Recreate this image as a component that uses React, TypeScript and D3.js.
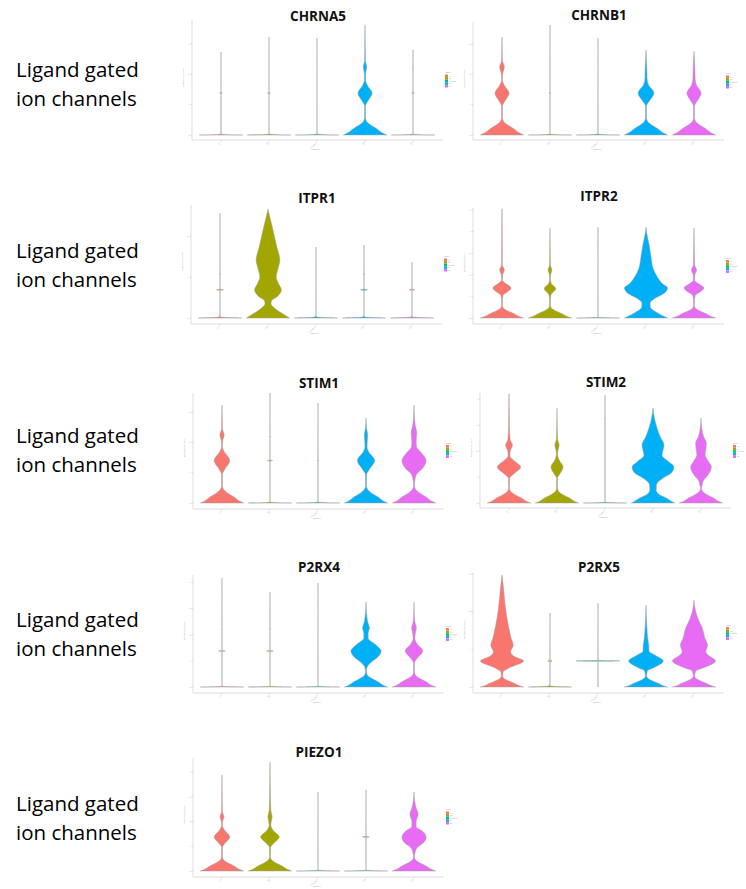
import React from "react";
import * as d3 from "d3";

type Pt = [number, number];

const genes = ["CHRNA5", "CHRNB1", "ITPR1", "ITPR2", "STIM1", "STIM2", "P2RX4", "P2RX5", "PIEZO1"];
const clusters = ["C1", "C2", "C3 cells", "C4", "C5"];
const clusterColors = ["#F8766D", "#A3A500", "#00BF7D", "#00B0F6", "#E76BF3"];
const yMaxes = [3.78, 3.72, 2.77, 5.09, 3.63, 4.22, 4.29, 3.02, 4.57];
const yTickValues = [
  [0, 1, 2, 3], [0, 1, 2, 3], [0, 1, 2], [0, 1, 2, 3, 4, 5], [0, 1, 2, 3],
  [0, 1, 2, 3, 4], [0, 1, 2, 3, 4], [0, 1, 2, 3], [0, 1, 2, 3, 4],
];
const rowLabelLines = ["Ligand gated", "ion channels"];

// density profile of the zero-inflated bottom part: [expression, relative width]
const BASE: Pt[] = [[0, 1], [0.07, 0.8], [0.2, 0.56], [0.35, 0.22], [0.45, 0.07], [0.58, 0.02]];
const BASE_HALF: Pt[] = [[0, 1], [0.035, 0.8], [0.1, 0.56], [0.18, 0.24], [0.24, 0.07], [0.29, 0.03]];

// nearly-all-zero violins: max value and small bumps [value, width]
function spike(top: number, marks: Pt[] = []): Pt[] {
  const pts: Pt[] = [[0, 1], [0.012, 0.3], [0.03, 0.002]];
  marks.forEach(([v, w]) => pts.push([v - 0.02, 0.002], [v, w], [v + 0.02, 0.002]));
  pts.push([top, 0]);
  return pts;
}

const chrna5: Pt[][] = [
  spike(2.73, [[1.38, 0.07]]),
  spike(3.22, [[1.38, 0.07]]),
  spike(3.19),
  [...BASE, [0.95, 0.02], [1.1, 0.12], [1.38, 0.33], [1.62, 0.12], [1.8, 0.03], [2.0, 0.03], [2.24, 0.08], [2.45, 0.02], [3.0, 0.01], [3.62, 0]],
  spike(2.8, [[1.38, 0.07], [2.2, 0.03]]),
];
const chrnb1: Pt[][] = [
  [...BASE, [0.95, 0.02], [1.1, 0.12], [1.38, 0.33], [1.62, 0.12], [1.8, 0.02], [2.0, 0.03], [2.24, 0.11], [2.45, 0.02], [2.8, 0.01], [3.22, 0]],
  spike(3.62, [[1.38, 0.05], [2.24, 0.02]]),
  spike(3.19),
  [...BASE, [0.95, 0.02], [1.1, 0.14], [1.38, 0.37], [1.65, 0.12], [1.85, 0.05], [2.2, 0.04], [2.5, 0.02], [2.8, 0]],
  [...BASE, [0.95, 0.02], [1.1, 0.13], [1.38, 0.33], [1.65, 0.11], [1.85, 0.05], [2.2, 0.04], [2.5, 0.02], [2.76, 0]],
];
const itpr1: Pt[][] = [
  spike(2.57, [[0.69, 0.16], [1.08, 0.03]]),
  [[0, 1], [0.05, 0.85], [0.15, 0.55], [0.27, 0.25], [0.35, 0.14], [0.42, 0.16], [0.52, 0.42], [0.69, 0.62], [0.85, 0.48], [1.0, 0.38], [1.2, 0.46], [1.42, 0.55], [1.74, 0.41], [2.16, 0.23], [2.4, 0.12], [2.6, 0.03], [2.67, 0]],
  spike(1.74),
  spike(1.79, [[0.69, 0.16], [1.08, 0.03]]),
  spike(1.37, [[0.69, 0.12]]),
];
const itpr2: Pt[][] = [
  [...BASE, [0.8, 0.02], [1.05, 0.05], [1.2, 0.25], [1.39, 0.42], [1.58, 0.2], [1.75, 0.02], [2.0, 0.03], [2.22, 0.11], [2.45, 0.02], [3.2, 0.015], [4.2, 0.01], [5.05, 0]],
  [...BASE, [0.8, 0.02], [1.05, 0.04], [1.36, 0.27], [1.6, 0.06], [1.8, 0.02], [2.0, 0.03], [2.22, 0.09], [2.45, 0.02], [3.3, 0.01], [4.17, 0]],
  spike(4.2),
  [[0, 1], [0.07, 0.85], [0.2, 0.6], [0.35, 0.35], [0.5, 0.2], [0.69, 0.19], [0.9, 0.4], [1.15, 0.85], [1.39, 1.0], [1.6, 0.75], [1.94, 0.5], [2.3, 0.33], [2.87, 0.23], [3.47, 0.13], [3.9, 0.04], [4.2, 0]],
  [...BASE, [0.8, 0.02], [1.05, 0.06], [1.2, 0.28], [1.39, 0.46], [1.58, 0.22], [1.75, 0.03], [2.0, 0.04], [2.22, 0.12], [2.45, 0.03], [3.2, 0.015], [4.17, 0]],
];
const stim1: Pt[][] = [
  [...BASE, [0.95, 0.02], [1.1, 0.12], [1.4, 0.36], [1.7, 0.1], [1.85, 0.02], [2.05, 0.03], [2.24, 0.1], [2.45, 0.02], [2.9, 0.01], [3.23, 0]],
  spike(3.63, [[1.4, 0.12], [2.2, 0.03]]),
  spike(3.3, [[1.4, 0.03]]),
  [...BASE, [0.95, 0.03], [1.1, 0.15], [1.4, 0.4], [1.7, 0.12], [1.85, 0.05], [2.05, 0.06], [2.24, 0.08], [2.45, 0.03], [2.8, 0]],
  [...BASE, [0.75, 0.04], [0.95, 0.12], [1.15, 0.4], [1.4, 0.56], [1.65, 0.35], [1.85, 0.12], [2.05, 0.1], [2.3, 0.13], [2.6, 0.05], [3.0, 0.01], [3.23, 0]],
];
const stim2: Pt[][] = [
  [...BASE, [0.95, 0.03], [1.1, 0.2], [1.38, 0.54], [1.65, 0.2], [1.8, 0.04], [2.0, 0.06], [2.22, 0.16], [2.45, 0.05], [3.0, 0.02], [3.7, 0.01], [4.2, 0]],
  [...BASE, [0.95, 0.02], [1.1, 0.12], [1.38, 0.28], [1.65, 0.1], [1.85, 0.03], [2.0, 0.04], [2.22, 0.1], [2.45, 0.03], [3.0, 0.01], [3.64, 0]],
  spike(4.14, [[3.25, 0.02]]),
  [[0, 1], [0.07, 0.85], [0.2, 0.6], [0.35, 0.25], [0.5, 0.15], [0.7, 0.16], [0.95, 0.45], [1.15, 0.85], [1.38, 0.97], [1.6, 0.7], [1.83, 0.42], [2.22, 0.51], [2.55, 0.33], [2.9, 0.18], [3.2, 0.08], [3.64, 0]],
  [...BASE, [0.7, 0.06], [0.85, 0.1], [1.05, 0.3], [1.38, 0.48], [1.65, 0.3], [1.85, 0.19], [2.1, 0.23], [2.3, 0.25], [2.55, 0.12], [2.85, 0.04], [3.26, 0]],
];
const p2rx4: Pt[][] = [
  spike(4.18, [[1.38, 0.16], [2.22, 0.03]]),
  spike(3.64, [[1.38, 0.16], [2.22, 0.03], [2.76, 0.02]]),
  spike(3.98),
  [...BASE, [0.75, 0.05], [0.92, 0.2], [1.15, 0.55], [1.38, 0.7], [1.62, 0.45], [1.88, 0.1], [2.05, 0.1], [2.26, 0.16], [2.5, 0.08], [2.8, 0.03], [3.26, 0]],
  [...BASE, [0.9, 0.02], [1.1, 0.15], [1.38, 0.41], [1.65, 0.15], [1.85, 0.04], [2.05, 0.06], [2.26, 0.11], [2.5, 0.04], [2.9, 0.01], [3.26, 0]],
];
const p2rx5: Pt[][] = [
  [...BASE_HALF, [0.4, 0.05], [0.5, 0.3], [0.69, 1.0], [0.8, 0.6], [0.93, 0.4], [1.11, 0.52], [1.3, 0.42], [1.55, 0.32], [2.1, 0.16], [2.62, 0.07], [2.97, 0]],
  spike(1.96, [[0.69, 0.1]]),
  [[0, 0.002], [0.68, 0.002], [0.69, 1.0], [0.7, 0.002], [2.22, 0]],
  [...BASE_HALF, [0.42, 0.06], [0.52, 0.4], [0.69, 0.8], [0.85, 0.4], [0.95, 0.14], [1.1, 0.13], [1.3, 0.08], [1.6, 0.04], [2.17, 0]],
  [...BASE_HALF, [0.42, 0.08], [0.52, 0.5], [0.69, 1.0], [0.85, 0.65], [0.93, 0.55], [1.11, 0.63], [1.3, 0.5], [1.55, 0.39], [1.8, 0.19], [2.0, 0.08], [2.3, 0]],
];
const piezo1: Pt[][] = [
  [...BASE, [0.95, 0.02], [1.1, 0.12], [1.38, 0.36], [1.65, 0.12], [1.85, 0.02], [2.0, 0.03], [2.19, 0.09], [2.4, 0.02], [3.0, 0.01], [3.89, 0]],
  [...BASE, [0.95, 0.03], [1.1, 0.15], [1.38, 0.43], [1.65, 0.14], [1.85, 0.04], [2.0, 0.06], [2.19, 0.1], [2.45, 0.04], [3.0, 0.02], [3.6, 0.01], [4.41, 0]],
  spike(3.2),
  spike(3.28, [[1.38, 0.16]]),
  [...BASE, [0.7, 0.04], [0.95, 0.15], [1.15, 0.45], [1.38, 0.56], [1.6, 0.4], [1.8, 0.1], [2.0, 0.1], [2.3, 0.19], [2.55, 0.1], [2.85, 0.03], [3.2, 0]],
];
const violinsByGene = [chrna5, chrnb1, itpr1, itpr2, stim1, stim2, p2rx4, p2rx5, piezo1];

// layout
const panelLeft = [192, 473, 191, 473, 193, 480, 193, 473, 193];
const panelTop = [20, 22, 205, 208, 393, 393, 575, 573, 758];
const panelBase = [135, 135, 318, 318, 503, 503, 687, 687, 871];
const panelAxisY = [140, 140, 324, 324, 509, 508, 693, 693, 877];
const panelTitleY = [21, 20, 203, 201, 388, 387, 572, 572, 757];
const rowLabelY = [77, 258, 443, 627, 811];

function Panel({ i }: { i: number }) {
  const left = panelLeft[i];
  const x = d3.scaleBand<string>().domain(clusters).range([left + 5, left + 245]);
  const y = d3.scaleLinear().domain([0, yMaxes[i]]).range([panelBase[i], panelTop[i]]);
  const hw = x.bandwidth() * 0.45;
  const axisY = panelAxisY[i];
  const mid = (panelTop[i] + panelBase[i]) / 2;
  return (
    <g>
      <text x={left + 126} y={panelTitleY[i]} textAnchor="middle" fontFamily="Open Sans" fontWeight="bold" fontSize={13.5} fill="#111">
        {genes[i]}
      </text>
      {/* y axis */}
      <line x1={left} x2={left} y1={panelTop[i]} y2={axisY} stroke="#cfcfcf" strokeWidth={0.7} />
      {yTickValues[i].map((t) => (
        <g key={t}>
          <line x1={left - 1.5} x2={left} y1={y(t)} y2={y(t)} stroke="#bbb" strokeWidth={0.5} />
          <text x={left - 2.5} y={y(t) + 0.8} fontSize={2.4} textAnchor="end" fill="#999" fontFamily="Open Sans">{t}</text>
        </g>
      ))}
      <text transform={`translate(${left - 8},${mid}) rotate(-90)`} fontSize={2.4} textAnchor="middle" fill="#aaa" fontFamily="Open Sans">
        Expression Level
      </text>
      {/* x axis */}
      <line x1={left} x2={left + 251} y1={axisY} y2={axisY} stroke="#cfcfcf" strokeWidth={0.7} />
      {clusters.map((c) => {
        const cx = (x(c) as number) + x.bandwidth() / 2;
        return (
          <g key={c}>
            <line x1={cx} x2={cx} y1={axisY} y2={axisY + 1.5} stroke="#bbb" strokeWidth={0.5} />
            <text transform={`translate(${cx},${axisY + 3}) rotate(-45)`} fontSize={2.4} textAnchor="end" fill="#999" fontFamily="Open Sans">{c}</text>
          </g>
        );
      })}
      <text x={left + 124} y={axisY + 10} fontSize={2.4} textAnchor="middle" fill="#999" fontFamily="Open Sans">Identity</text>
      {/* violins */}
      {violinsByGene[i].map((prof, k) => {
        const cx = (x(clusters[k]) as number) + x.bandwidth() / 2;
        const area = d3
          .area<Pt>()
          .y((d) => y(d[0]))
          .x0((d) => cx - hw * d[1])
          .x1((d) => cx + hw * d[1])
          .curve(d3.curveMonotoneY);
        return (
          <path key={k} d={area(prof) || ""} fill={clusterColors[k]} stroke="#a3a3a3" strokeWidth={0.5} />
        );
      })}
      {/* legend */}
      <text x={left + 253} y={mid - 4.5} fontSize={2.2} fill="#999" fontFamily="Open Sans">ident</text>
      {clusters.map((c, k) => (
        <g key={c}>
          <rect x={left + 253} y={mid - 3 + k * 2.6} width={3} height={2.6} fill={clusterColors[k]} />
          <text x={left + 257} y={mid - 1 + k * 2.6} fontSize={2} fill="#999" fontFamily="Open Sans">{c}</text>
        </g>
      ))}
    </g>
  );
}

export default function App() {
  return (
    <svg width={746} height={889} style={{ position: "absolute", left: 0, top: 0, background: "#fff" }}>
      <rect width={746} height={889} fill="#fff" />
      {rowLabelY.map((ry, r) => (
        <g key={r}>
          {rowLabelLines.map((line, j) => (
            <text key={j} x={16} y={ry + j * 29} fontFamily="Open Sans" fontSize={20.5} fill="#000">{line}</text>
          ))}
        </g>
      ))}
      {genes.map((g, i) => (
        <Panel key={g} i={i} />
      ))}
    </svg>
  );
}
